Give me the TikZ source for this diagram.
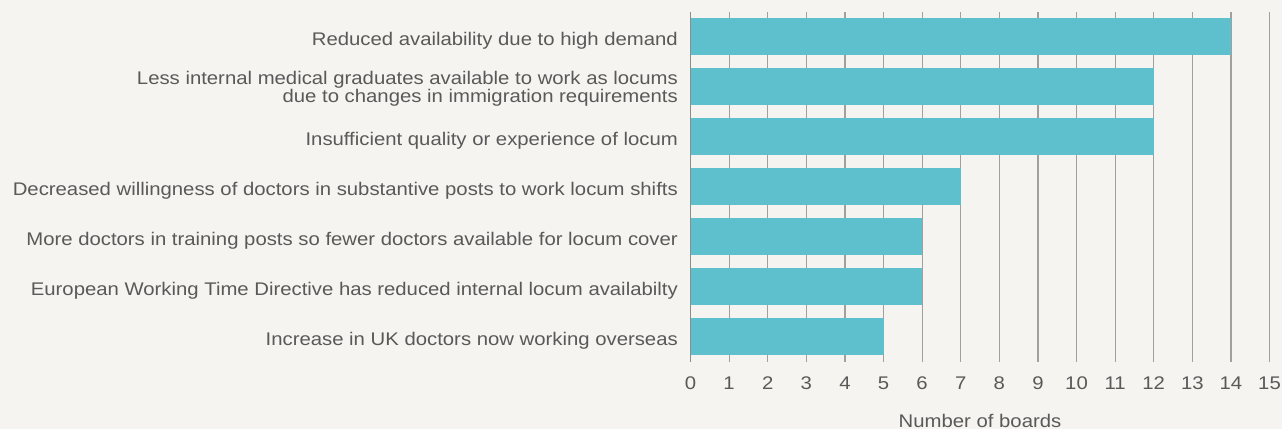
\documentclass[tikz,border=0pt]{standalone}
\usepackage{fontspec}
\setmainfont[FakeStretch=1.11]{Liberation Sans}
\begin{document}
\begin{tikzpicture}[x=1pt,y=-1pt,
  lbl/.style={anchor=base east,text=txtgray,font=\fontsize{18.3}{18.3}\selectfont,inner sep=0pt,align=right},
  tick/.style={anchor=base,text=txtgray,font=\fontsize{18.3}{18.3}\selectfont,inner sep=0pt},
  grid/.style={draw=gridgray,line width=1.2pt},
  axisln/.style={draw=axisgray,line width=1.8pt},
  bar/.style={fill=barcol,draw=none}]
\definecolor{bgcol}{HTML}{F6F4F0}
\definecolor{barcol}{HTML}{5FC0CD}
\definecolor{txtgray}{HTML}{595959}
\definecolor{gridgray}{HTML}{A0A0A0}
\definecolor{axisgray}{HTML}{8C8C8C}
\fill[bgcol] (0,0) rectangle (1282,429);
\useasboundingbox (0,0) rectangle (1282,429);
% gridlines
\foreach \i in {1,...,15}{
  \draw[grid] ({690.5+38.6*\i},12) -- ({690.5+38.6*\i},362);
  \node[tick] (t\i) at ({690.5+38.6*\i},389.3) {\i};
}
\node[tick] (t0) at (690.5,389.3) {0};
% bars
\foreach \v [count=\k from 0] in {14,12,12,7,6,6,5}{
  \fill[bar] (690.5,{17.7+50*\k}) rectangle ({690.5+38.6*\v},{55+50*\k});
}
\draw[axisln] (690.5,12) -- (690.5,362);
% labels
\node[lbl] (l1) at (678,45.7) {Reduced availability due to high demand};
\node[lbl] (l2) at (678,102.3) {Less internal medical graduates available to work as locums\\due to changes in immigration requirements};
\node[lbl] (l3) at (678,145.7) {Insufficient quality or experience of locum};
\node[lbl] (l4) at (678,195.7) {Decreased willingness of doctors in substantive posts to work locum shifts};
\node[lbl] (l5) at (678,245.7) {More doctors in training posts so fewer doctors available for locum cover};
\node[lbl] (l6) at (678,295.7) {European Working Time Directive has reduced internal locum availabilty};
\node[lbl] (l7) at (678,345.7) {Increase in UK doctors now working overseas};
\node[tick] (xl) at (980,427) {Number of boards};
\end{tikzpicture}
\end{document}
